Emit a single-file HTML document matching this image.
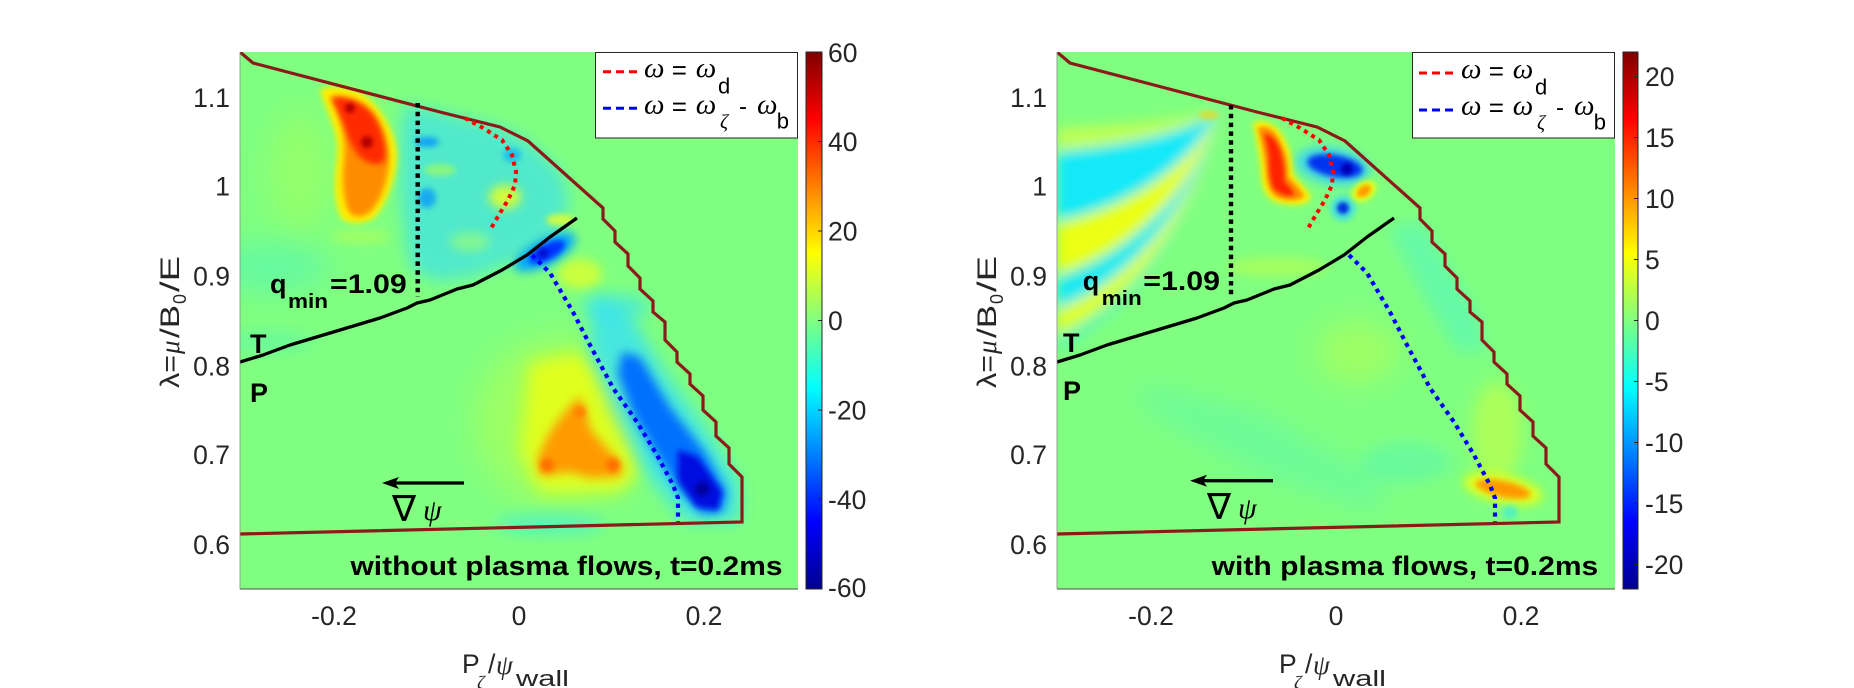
<!DOCTYPE html>
<html><head><meta charset="utf-8"><style>html,body{margin:0;padding:0;background:#fff;width:1854px;height:688px;overflow:hidden}svg{display:block}</style></head>
<body>
<svg xmlns="http://www.w3.org/2000/svg" xmlns:xlink="http://www.w3.org/1999/xlink" width="1854" height="688" viewBox="0 0 1854 688" font-family="'Liberation Sans', Arial, Helvetica, sans-serif">
<defs>
  <linearGradient id="jet" x1="0" y1="1" x2="0" y2="0">
    <stop offset="0" stop-color="#00008f"/>
    <stop offset="0.125" stop-color="#0000ff"/>
    <stop offset="0.375" stop-color="#00ffff"/>
    <stop offset="0.5" stop-color="#80ff80"/>
    <stop offset="0.625" stop-color="#ffff00"/>
    <stop offset="0.875" stop-color="#ff0000"/>
    <stop offset="1" stop-color="#800000"/>
  </linearGradient>
  <clipPath id="cp"><rect x="0" y="0" width="558" height="537"/></clipPath>
  <filter id="b2" x="-50%" y="-50%" width="200%" height="200%"><feGaussianBlur stdDeviation="2"/></filter>
  <filter id="b3" x="-50%" y="-50%" width="200%" height="200%"><feGaussianBlur stdDeviation="3"/></filter>
  <filter id="b5" x="-50%" y="-50%" width="200%" height="200%"><feGaussianBlur stdDeviation="5"/></filter>
  <filter id="b6" x="-50%" y="-50%" width="200%" height="200%"><feGaussianBlur stdDeviation="6"/></filter>
  <filter id="b8" x="-50%" y="-50%" width="200%" height="200%"><feGaussianBlur stdDeviation="8"/></filter>
  <filter id="b14" x="-50%" y="-50%" width="200%" height="200%"><feGaussianBlur stdDeviation="14"/></filter>

  <g id="lines">
    <polyline points="0,0 13,11 200,60 260,75 288,89 363,156 363,167 375,179 375,190 388,202 388,214 400,226 400,237 413,249 413,260 425,270 425,288 437,300 437,310 450,322 450,332 463,344 463,358 476,370 476,384 489,396 489,412 502,425 502,470 0,482" fill="none" stroke="#8b1a1a" stroke-width="3.2" stroke-linejoin="miter"/>
    <polyline points="0,310 23,303 50,293 100,278 140,266 167,256 177,251 190,248 217,237 233,233 262,218 287,203 310,185 320,178 337,166" fill="none" stroke="#000" stroke-width="3.3" stroke-linejoin="round"/>
    <polyline points="225,66 243,76 262,88 272,103 276,120 275,133 268,148 260,161 250,178" fill="none" stroke="#ff0000" stroke-width="4" stroke-dasharray="4 4.5"/>
    <polyline points="292,203 310,221 333,260 350,293 373,336 397,370 417,403 433,433 438,446 438,470" fill="none" stroke="#0000ff" stroke-width="4.2" stroke-dasharray="4.2 4.6"/>
  </g>
</defs>
<rect width="1854" height="688" fill="#fff"/>

<!-- ================= LEFT PANEL ================= -->
<g transform="translate(240,52)">
  <g clip-path="url(#cp)">
    <rect x="0" y="0" width="558" height="537" fill="#80ff80"/>
    <ellipse cx="320" cy="370" rx="85" ry="85" fill="#d0ff30" opacity="0.35" filter="url(#b14)"/>
    <ellipse cx="30" cy="215" rx="60" ry="25" fill="#40f0d0" opacity="0.4" filter="url(#b14)"/>
    <ellipse cx="30" cy="290" rx="45" ry="10" fill="#40f0d0" opacity="0.35" filter="url(#b8)"/>
    <ellipse cx="60" cy="120" rx="30" ry="60" fill="#c0ff40" opacity="0.3" filter="url(#b14)"/>
    <ellipse cx="310" cy="472" rx="55" ry="10" fill="#30e8f0" opacity="0.55" filter="url(#b8)"/>
    <ellipse cx="120" cy="185" rx="30" ry="6" fill="#c8ff40" opacity="0.5" filter="url(#b5)"/>
    <polygon points="165,52 200,60 260,75 288,89 320,118 330,150 320,178 290,200 260,215 230,225 195,230 170,215 160,150 160,80" fill="#30dcff" opacity="0.6" filter="url(#b8)"/>
    <ellipse cx="265" cy="145" rx="16" ry="12" fill="#e8ff20" opacity="0.85" filter="url(#b5)"/>
    <ellipse cx="320" cy="168" rx="14" ry="6" fill="#f0ff20" opacity="0.75" filter="url(#b3)"/>
    <ellipse cx="200" cy="118" rx="16" ry="6" fill="#b0ff50" opacity="0.6" filter="url(#b3)"/>
    <ellipse cx="230" cy="190" rx="20" ry="10" fill="#a0ff70" opacity="0.6" filter="url(#b5)"/>
    <ellipse cx="340" cy="222" rx="22" ry="15" fill="#e8ff20" opacity="0.7" filter="url(#b5)"/>
    <ellipse cx="187" cy="90" rx="12" ry="5" fill="#0090ff" opacity="0.8" filter="url(#b3)"/>
    <ellipse cx="187" cy="146" rx="9" ry="10" fill="#0090ff" opacity="0.7" filter="url(#b3)"/>
    <ellipse cx="272" cy="103" rx="9" ry="7" fill="#00a0ff" opacity="0.6" filter="url(#b3)"/>
    <ellipse cx="305" cy="200" rx="34" ry="13" transform="rotate(-28 305 200)" fill="#00a8ff" filter="url(#b5)"/>
    <ellipse cx="307" cy="200" rx="20" ry="8" transform="rotate(-28 307 200)" fill="#0030ff" filter="url(#b3)"/>
    <circle cx="303" cy="201" r="5" fill="#0010d0" filter="url(#b2)"/>
    <path d="M80,38 C90,32 112,34 126,44 C142,57 155,80 157,100 C158,122 148,150 135,165 C127,172 109,174 101,166 C96,155 94,140 95,125 C96,110 99,100 96,85 C93,70 85,55 80,38 Z" fill="#ffee00" filter="url(#b3)"/>
    <path d="M90,45 C105,42 122,48 133,60 C145,75 149,95 149,110 C148,130 140,150 130,160 C122,166 112,166 108,158 C104,148 103,135 103,122 C104,108 106,95 103,80 C100,66 95,55 90,45 Z" fill="#ff8c00" filter="url(#b3)"/>
    <path d="M92,46 C106,44 122,50 132,62 C142,76 147,95 145,108 C140,115 128,112 120,105 C112,96 108,86 105,76 C101,64 96,55 92,46 Z" fill="#ff2a00" filter="url(#b3)"/>
    <circle cx="110" cy="56" r="5" fill="#b40000" filter="url(#b2)"/>
    <circle cx="127" cy="90" r="6" fill="#b40000" filter="url(#b2)"/>
    <polygon points="290,310 340,300 385,350 400,420 380,440 300,440 280,400 285,350" fill="#f0ff10" opacity="0.8" filter="url(#b8)"/>
    <polygon points="340,344 352,380 380,410 382,424 350,426 330,420 300,424 298,405 310,380 325,360" fill="#ff9a00" filter="url(#b5)"/>
    <circle cx="307" cy="413" r="7" fill="#ff7000" filter="url(#b3)"/>
    <circle cx="373" cy="413" r="7" fill="#ff7000" filter="url(#b3)"/>
    <circle cx="340" cy="360" r="6" fill="#ff8000" filter="url(#b3)"/>
    <ellipse cx="375" cy="255" rx="35" ry="12" fill="#30e0ff" opacity="0.6" filter="url(#b8)"/>
    <polygon points="355,245 390,262 425,320 465,375 500,430 500,470 445,470 405,420 372,360 348,295" fill="#30e0ff" opacity="0.75" filter="url(#b8)"/>
    <polygon points="382,300 400,305 430,355 465,400 487,440 482,460 462,462 440,440 415,400 392,360 378,322" fill="#0070ff" filter="url(#b5)"/>
    <polygon points="438,398 458,405 482,440 478,458 456,455 438,428" fill="#0010e0" filter="url(#b3)"/>
    <circle cx="462" cy="437" r="7" fill="#00009a" filter="url(#b3)"/>
    <use xlink:href="#lines"/>
    <line x1="177.7" y1="51" x2="177.7" y2="245" stroke="#000" stroke-width="4.4" stroke-dasharray="4.5 4.3"/>
  </g>
  <line x1="0" y1="537" x2="558" y2="537" stroke="#4a4a4a" stroke-width="1"/>
  <line x1="0" y1="0" x2="0" y2="537" stroke="#8a8a8a" stroke-width="0.8"/>
  <text x="30" y="241" font-weight="bold" font-size="27">q</text>
  <text x="48" y="256" font-weight="bold" font-size="20" textLength="40" lengthAdjust="spacingAndGlyphs">min</text>
  <text x="90" y="241" font-weight="bold" font-size="27" textLength="76.7" lengthAdjust="spacingAndGlyphs">=1.09</text>
  <text x="10" y="301" font-weight="bold" font-size="27">T</text>
  <text x="10" y="350" font-weight="bold" font-size="27">P</text>
  <line x1="155" y1="431" x2="224" y2="431" stroke="#000" stroke-width="3.3"/>
  <polygon points="142,431 159,425 155,431 159,437" fill="#000"/>
  <text x="152" y="469" font-size="36" font-family="'DejaVu Sans','DejaVu Serif',serif">∇</text>
  <text x="183" y="468" font-size="30" font-style="italic" font-family="'Liberation Serif','DejaVu Serif',serif">ψ</text>
  <text x="110.5" y="523" font-weight="bold" font-size="27" textLength="432" lengthAdjust="spacingAndGlyphs">without plasma flows, t=0.2ms</text>
  <rect x="355.5" y="0.5" width="202" height="85.5" fill="#fff" stroke="#262626" stroke-width="1"/>
  <line x1="363" y1="19.7" x2="397" y2="19.7" stroke="#ff0000" stroke-width="3" stroke-dasharray="8 5"/>
  <line x1="363" y1="56.3" x2="397" y2="56.3" stroke="#0000ff" stroke-width="3" stroke-dasharray="8 5"/>
  <g font-size="26" fill="#000">
    <text x="404" y="25" font-size="29" font-style="italic" font-family="'Liberation Serif',serif">ω</text>
    <text x="431.7" y="27">=</text>
    <text x="455.7" y="25" font-size="29" font-style="italic" font-family="'Liberation Serif',serif">ω</text>
    <text x="478" y="41.3" font-size="22">d</text>
    <text x="404" y="61.5" font-size="29" font-style="italic" font-family="'Liberation Serif',serif">ω</text>
    <text x="431.7" y="63.5">=</text>
    <text x="455.7" y="61.5" font-size="29" font-style="italic" font-family="'Liberation Serif',serif">ω</text>
    <text x="480" y="76" font-size="20" font-style="italic" font-family="'Liberation Serif',serif">ζ</text>
    <text x="499" y="62.5" font-size="24">-</text>
    <text x="517" y="61.5" font-size="29" font-style="italic" font-family="'Liberation Serif',serif">ω</text>
    <text x="536.7" y="76.3" font-size="22">b</text>
  </g>
</g>

<g font-size="26.5" fill="#262626">
  <text x="230" y="107" text-anchor="end">1.1</text>
  <text x="230" y="195.5" text-anchor="end">1</text>
  <text x="230" y="285.5" text-anchor="end">0.9</text>
  <text x="230" y="375.5" text-anchor="end">0.8</text>
  <text x="230" y="464" text-anchor="end">0.7</text>
  <text x="230" y="554" text-anchor="end">0.6</text>
  <text x="334" y="625" text-anchor="middle">-0.2</text>
  <text x="519" y="625" text-anchor="middle">0</text>
  <text x="704" y="625" text-anchor="middle">0.2</text>
</g>
<g fill="#262626">
  <text x="462" y="673" font-size="26.5">P</text>
  <text x="477" y="689" font-size="19" font-style="italic" font-family="'Liberation Serif',serif">ζ</text>
  <text x="488" y="673" font-size="26.5">/</text>
  <text x="496" y="674" font-size="27" font-style="italic" font-family="'Liberation Serif',serif">ψ</text>
  <text x="516" y="686" font-size="22" textLength="53" lengthAdjust="spacingAndGlyphs">wall</text>
  <g transform="translate(179,388) rotate(-90)">
    <text x="0" y="0" font-size="26.5" textLength="33" lengthAdjust="spacingAndGlyphs">λ=</text>
    <text x="34" y="0" font-size="27" font-style="italic" font-family="'Liberation Serif',serif">μ</text>
    <text x="50" y="0" font-size="26.5" textLength="33" lengthAdjust="spacingAndGlyphs">/B</text>
    <text x="84" y="7" font-size="18">0</text>
    <text x="96" y="0" font-size="26.5" textLength="36" lengthAdjust="spacingAndGlyphs">/E</text>
  </g>
</g>
<rect x="806" y="52" width="16" height="537" fill="url(#jet)" stroke="#262626" stroke-width="1"/>
<g stroke="#262626" stroke-width="1">
  <line x1="818" y1="141.5" x2="822" y2="141.5"/><line x1="818" y1="231" x2="822" y2="231"/>
  <line x1="818" y1="320.5" x2="822" y2="320.5"/><line x1="818" y1="410" x2="822" y2="410"/>
  <line x1="818" y1="499.5" x2="822" y2="499.5"/>
</g>
<g font-size="26.5" fill="#262626">
  <text x="828" y="62">60</text>
  <text x="828" y="151">40</text>
  <text x="828" y="240.5">20</text>
  <text x="828" y="330">0</text>
  <text x="828" y="419.5">-20</text>
  <text x="828" y="509">-40</text>
  <text x="828" y="597">-60</text>
</g>

<!-- ================= RIGHT PANEL ================= -->
<g transform="translate(1057,52)">
  <g clip-path="url(#cp)">
    <rect x="0" y="0" width="558" height="537" fill="#80ff80"/>
    <polygon points="330,175 365,170 420,260 430,300 400,300 370,250" fill="#40f0e0" opacity="0.4" filter="url(#b8)"/>
    <polygon points="80,330 200,360 330,430 320,460 200,420 90,360" fill="#40f0d0" opacity="0.3" filter="url(#b14)"/>
    <ellipse cx="440" cy="380" rx="25" ry="50" fill="#d8ff30" opacity="0.5" filter="url(#b8)"/>
    <ellipse cx="300" cy="300" rx="40" ry="30" fill="#d8ff30" opacity="0.35" filter="url(#b14)"/>
    <ellipse cx="220" cy="215" rx="50" ry="10" fill="#d8ff30" opacity="0.4" filter="url(#b5)"/>
    <ellipse cx="350" cy="410" rx="45" ry="20" fill="#40f0d0" opacity="0.35" filter="url(#b8)"/>
    <!-- stripes -->
    <g filter="url(#b6)">
      <path d="M0,76 C80,73.15 140,65.55 163,57 C140,75.45 80,91.85 0,98 Z" fill="#f0ff30" opacity="0.55"/>
      <path d="M0,100 C80,93.55 140,76.35 163,57 C140,106.95 80,151.35 0,168 Z" fill="#10e8ff" opacity="0.95"/>
      <path d="M0,172 C80,154.75 140,108.75 163,57 C140,131.25 80,197.25 0,222 Z" fill="#f0ff10" opacity="0.95"/>
      <path d="M0,226 C80,200.65 140,133.05 163,57 C140,146.55 80,226.15 0,256 Z" fill="#10e8ff" opacity="0.9"/>
      <path d="M0,258 C80,227.85 140,147.45 163,57 C140,158.25 80,248.25 0,282 Z" fill="#f0ff10" opacity="0.85"/>
      <path d="M0,284 C80,249.95 140,159.15 163,57 C140,166.35 80,263.55 0,300 Z" fill="#40f0e0" opacity="0.45"/>
    </g>
    <ellipse cx="152" cy="63" rx="10" ry="4" fill="#ffd000" opacity="0.7" filter="url(#b3)"/>
    <path d="M196,71 C205,67 218,70 226,84 C232,96 238,108 236,122 C242,130 252,138 254,146 C250,154 235,154 222,151 C210,148 205,138 204,122 C203,106 200,90 196,71 Z" fill="#ffee00" filter="url(#b3)"/>
    <path d="M201,76 C208,73 216,76 222,87 C228,99 232,110 231,124 C238,132 246,139 247,145 C240,149 230,149 222,146 C213,142 210,134 209,120 C208,105 205,92 201,76 Z" fill="#ff8c00" filter="url(#b2)"/>
    <path d="M207,82 C214,82 219,88 223,98 C226,108 228,118 227,128 C232,135 238,140 237,143 C230,145 222,142 217,137 C213,130 212,118 212,106 C211,96 209,89 207,82 Z" fill="#ff2000" filter="url(#b2)"/>
    <ellipse cx="276" cy="114" rx="38" ry="19" transform="rotate(10 276 114)" fill="#30d0ff" opacity="0.8" filter="url(#b5)"/>
    <ellipse cx="278" cy="114" rx="28" ry="11" transform="rotate(10 278 114)" fill="#0030f0" filter="url(#b3)"/>
    <circle cx="290" cy="117" r="6" fill="#0000b4" filter="url(#b2)"/>
    <circle cx="286" cy="156" r="13" fill="#30d8ff" opacity="0.7" filter="url(#b3)"/>
    <circle cx="286" cy="156" r="6" fill="#0030e0" filter="url(#b2)"/>
    <ellipse cx="307" cy="139" rx="13" ry="9" transform="rotate(-35 307 139)" fill="#f0ff10" filter="url(#b3)"/>
    <ellipse cx="307" cy="139" rx="8" ry="5" transform="rotate(-35 307 139)" fill="#ff9a00" filter="url(#b2)"/>
    <ellipse cx="446" cy="437" rx="40" ry="14" transform="rotate(12 446 437)" fill="#f0ff10" opacity="0.9" filter="url(#b5)"/>
    <ellipse cx="446" cy="437" rx="28" ry="8" transform="rotate(12 446 437)" fill="#ff9800" filter="url(#b3)"/>
    <circle cx="453" cy="460" r="7" fill="#30e8f0" opacity="0.6" filter="url(#b3)"/>
    <use xlink:href="#lines"/>
    <line x1="174" y1="53" x2="174" y2="246" stroke="#000" stroke-width="4.4" stroke-dasharray="4.5 4.3"/>
  </g>
  <line x1="0" y1="537" x2="558" y2="537" stroke="#4a4a4a" stroke-width="1"/>
  <line x1="0" y1="0" x2="0" y2="537" stroke="#8a8a8a" stroke-width="0.8"/>
  <text x="25.7" y="238" font-weight="bold" font-size="27">q</text>
  <text x="44.7" y="253" font-weight="bold" font-size="20" textLength="40" lengthAdjust="spacingAndGlyphs">min</text>
  <text x="86.3" y="238" font-weight="bold" font-size="27" textLength="76.7" lengthAdjust="spacingAndGlyphs">=1.09</text>
  <text x="6" y="300" font-weight="bold" font-size="27">T</text>
  <text x="6" y="348" font-weight="bold" font-size="27">P</text>
  <line x1="146" y1="428.7" x2="216" y2="428.7" stroke="#000" stroke-width="3.3"/>
  <polygon points="133,428.7 150,422.7 146,428.7 150,434.7" fill="#000"/>
  <text x="150" y="467" font-size="36" font-family="'DejaVu Sans','DejaVu Serif',serif">∇</text>
  <text x="181" y="466" font-size="30" font-style="italic" font-family="'Liberation Serif','DejaVu Serif',serif">ψ</text>
  <text x="154.7" y="523" font-weight="bold" font-size="27" textLength="386.6" lengthAdjust="spacingAndGlyphs">with plasma flows, t=0.2ms</text>
  <rect x="355.5" y="0.5" width="202" height="85.5" fill="#fff" stroke="#262626" stroke-width="1"/>
  <line x1="362" y1="21" x2="396" y2="21" stroke="#ff0000" stroke-width="3" stroke-dasharray="8 5"/>
  <line x1="362" y1="58" x2="396" y2="58" stroke="#0000ff" stroke-width="3" stroke-dasharray="8 5"/>
  <g font-size="26" fill="#000">
    <text x="404" y="26" font-size="29" font-style="italic" font-family="'Liberation Serif',serif">ω</text>
    <text x="431.7" y="28">=</text>
    <text x="455.7" y="26" font-size="29" font-style="italic" font-family="'Liberation Serif',serif">ω</text>
    <text x="478" y="42.3" font-size="22">d</text>
    <text x="404" y="62.5" font-size="29" font-style="italic" font-family="'Liberation Serif',serif">ω</text>
    <text x="431.7" y="64.5">=</text>
    <text x="455.7" y="62.5" font-size="29" font-style="italic" font-family="'Liberation Serif',serif">ω</text>
    <text x="480" y="77" font-size="20" font-style="italic" font-family="'Liberation Serif',serif">ζ</text>
    <text x="499" y="63.5" font-size="24">-</text>
    <text x="517" y="62.5" font-size="29" font-style="italic" font-family="'Liberation Serif',serif">ω</text>
    <text x="536.7" y="77.3" font-size="22">b</text>
  </g>
</g>

<g font-size="26.5" fill="#262626">
  <text x="1047" y="107" text-anchor="end">1.1</text>
  <text x="1047" y="195.5" text-anchor="end">1</text>
  <text x="1047" y="285.5" text-anchor="end">0.9</text>
  <text x="1047" y="375.5" text-anchor="end">0.8</text>
  <text x="1047" y="464" text-anchor="end">0.7</text>
  <text x="1047" y="554" text-anchor="end">0.6</text>
  <text x="1151" y="625" text-anchor="middle">-0.2</text>
  <text x="1336" y="625" text-anchor="middle">0</text>
  <text x="1521" y="625" text-anchor="middle">0.2</text>
</g>
<g fill="#262626">
  <text x="1279" y="673" font-size="26.5">P</text>
  <text x="1294" y="689" font-size="19" font-style="italic" font-family="'Liberation Serif',serif">ζ</text>
  <text x="1305" y="673" font-size="26.5">/</text>
  <text x="1313" y="674" font-size="27" font-style="italic" font-family="'Liberation Serif',serif">ψ</text>
  <text x="1333" y="686" font-size="22" textLength="53" lengthAdjust="spacingAndGlyphs">wall</text>
  <g transform="translate(996,388) rotate(-90)">
    <text x="0" y="0" font-size="26.5" textLength="33" lengthAdjust="spacingAndGlyphs">λ=</text>
    <text x="34" y="0" font-size="27" font-style="italic" font-family="'Liberation Serif',serif">μ</text>
    <text x="50" y="0" font-size="26.5" textLength="33" lengthAdjust="spacingAndGlyphs">/B</text>
    <text x="84" y="7" font-size="18">0</text>
    <text x="96" y="0" font-size="26.5" textLength="36" lengthAdjust="spacingAndGlyphs">/E</text>
  </g>
</g>
<rect x="1623" y="52" width="15" height="537" fill="url(#jet)" stroke="#262626" stroke-width="1"/>
<g stroke="#262626" stroke-width="1">
  <line x1="1634" y1="76.5" x2="1638" y2="76.5"/><line x1="1634" y1="137.5" x2="1638" y2="137.5"/>
  <line x1="1634" y1="198.5" x2="1638" y2="198.5"/><line x1="1634" y1="259.5" x2="1638" y2="259.5"/>
  <line x1="1634" y1="320.5" x2="1638" y2="320.5"/><line x1="1634" y1="381.5" x2="1638" y2="381.5"/>
  <line x1="1634" y1="442.5" x2="1638" y2="442.5"/><line x1="1634" y1="503.5" x2="1638" y2="503.5"/>
  <line x1="1634" y1="564.5" x2="1638" y2="564.5"/>
</g>
<g font-size="26.5" fill="#262626">
  <text x="1645" y="86">20</text>
  <text x="1645" y="147">15</text>
  <text x="1645" y="208">10</text>
  <text x="1645" y="269">5</text>
  <text x="1645" y="330">0</text>
  <text x="1645" y="391">-5</text>
  <text x="1645" y="452">-10</text>
  <text x="1645" y="513">-15</text>
  <text x="1645" y="574">-20</text>
</g>
</svg>
</body></html>
